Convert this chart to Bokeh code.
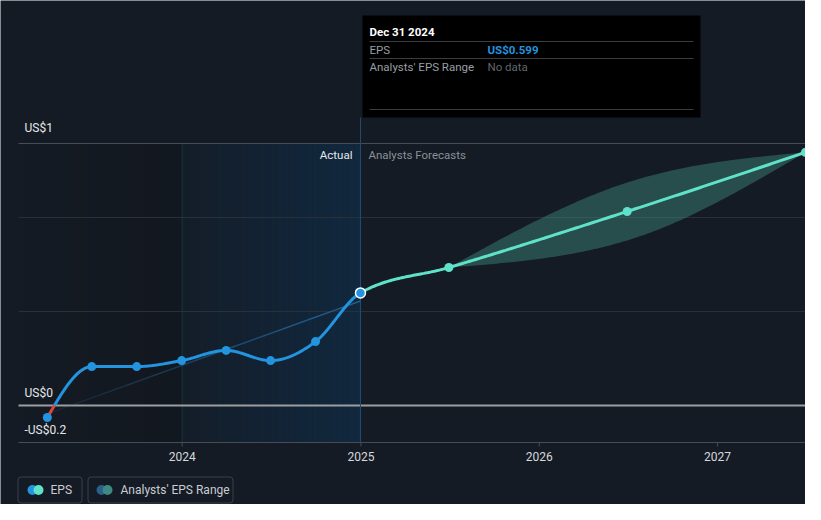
import numpy as np
import pandas as pd
from bokeh.plotting import figure
from bokeh.models import Range1d
from bokeh.core.properties import value
from bokeh.embed import file_html
from bokeh.resources import INLINE

# ---------------- data ----------------
eps_dates = ["2023-03-31", "2023-06-30", "2023-09-30", "2023-12-31",
             "2024-03-31", "2024-06-30", "2024-09-30", "2024-12-31"]
eps_values = [-0.064, 0.207, 0.207, 0.239, 0.293, 0.239, 0.340, 0.599]

fc_dates = ["2024-12-31", "2025-06-30", "2026-06-30", "2027-06-30"]
fc_values = [0.599, 0.734, 1.032, 1.347]

range_dates = ["2025-06-30", "2026-06-30", "2027-06-30"]
range_low = [0.734, 0.878, 1.347]
range_high = [0.734, 1.186, 1.347]

trend_dates = ["2023-03-31", "2024-12-31"]
trend_values = [-0.045, 0.556]

year_ticks = ["2024-01-01", "2025-01-01", "2026-01-01", "2027-01-01"]
year_labels = ["2024", "2025", "2026", "2027"]
y_label_text = ["US$1", "US$0", "-US$0.2"]
grid_values = [0.5, 1.0]

tip_date = "Dec 31 2024"
tip_eps = "US$0.599"
tip_range = "No data"

legend_labels = ["EPS", "Analysts' EPS Range"]

# ---------------- helpers ----------------
def ms(d):
    return pd.Timestamp(d).value / 1e6

BG = "#151b24"
FONT = "Roboto"

X0, X1 = ms("2023-01-31"), ms("2027-06-30")   # frame of the plot body
PX_L, PX_R = 18.0, 805.0

def X(px):
    return X0 + (px - PX_L) / (PX_R - PX_L) * (X1 - X0)

def Y(py):
    return (405 - py) / 188.0

Y_BOT = Y(442)
Y_FRAME_TOP = Y(143)

def monotone(xs, ys, n=60):
    xs = np.asarray(xs, float); ys = np.asarray(ys, float)
    h = np.diff(xs); d = np.diff(ys) / h
    m = np.zeros(len(xs))
    for i in range(1, len(xs) - 1):
        s0, s1, h0, h1 = d[i - 1], d[i], h[i - 1], h[i]
        p_ = (s0 * h1 + s1 * h0) / (h0 + h1)
        m[i] = (np.sign(s0) + np.sign(s1)) * min(abs(s0), abs(s1), 0.5 * abs(p_))
    if len(xs) > 2:
        m[0] = (3 * d[0] - m[1]) / 2
        m[-1] = (3 * d[-1] - m[-2]) / 2
    else:
        m[0] = m[-1] = d[0]
    ox, oy = [], []
    for i in range(len(xs) - 1):
        t = np.linspace(0, 1, n, endpoint=(i == len(xs) - 2))
        h00 = 2 * t**3 - 3 * t**2 + 1
        h10 = t**3 - 2 * t**2 + t
        h01 = -2 * t**3 + 3 * t**2
        h11 = t**3 - t**2
        ox.extend(xs[i] + t * h[i])
        oy.extend(h00 * ys[i] + h10 * h[i] * m[i] + h01 * ys[i + 1] + h11 * h[i] * m[i + 1])
    return np.array(ox), np.array(oy)

ex = [ms(d) for d in eps_dates]
fx = [ms(d) for d in fc_dates]
rx = [ms(d) for d in range_dates]

# ---------------- figure ----------------
p = figure(width=805, height=504, output_backend="svg", toolbar_location=None,
           x_range=Range1d(X(0), X(805)), y_range=Range1d(Y(504), Y(0)),
           min_border=0, background_fill_color=BG, border_fill_color=BG,
           outline_line_color=None)
p.axis.visible = False
p.grid.visible = False

# shaded regions
act_start, act_end = ms("2024-01-01"), ms(eps_dates[-1])
nstrip = 30
edges = np.linspace(X0, act_start, nstrip + 1)
p.quad(left=edges[:-1], right=edges[1:], bottom=Y_BOT, top=Y_FRAME_TOP,
       fill_color="#000000", fill_alpha=np.linspace(0.0, 0.11, nstrip), line_color=None)
edges = np.linspace(act_start, act_end, nstrip + 1)
p.quad(left=edges[:-1], right=edges[1:], bottom=Y_BOT, top=Y_FRAME_TOP,
       fill_color="#0a4678", fill_alpha=np.linspace(0.07, 0.32, nstrip), line_color=None)
p.segment(x0=[act_start], y0=[Y_BOT], x1=[act_start], y1=[Y_FRAME_TOP],
          line_color="#1c3246", line_width=1)

# grid lines, top border
p.segment(x0=[X0] * len(grid_values), x1=[X1] * len(grid_values), y0=grid_values, y1=grid_values,
          line_color="#2a3039", line_width=1)
p.segment(x0=[X0], x1=[X1], y0=[Y_FRAME_TOP], y1=[Y_FRAME_TOP], line_color="#474b53", line_width=1)

# x axis (drawn)
yt = [ms(d) for d in year_ticks]
p.segment(x0=[X0], x1=[X1], y0=[Y_BOT], y1=[Y_BOT], line_color="#474c55", line_width=1)
p.segment(x0=yt, x1=yt, y0=[Y_BOT] * 4, y1=[Y(446)] * 4, line_color="#474c55", line_width=1)
p.text(x=yt, y=[Y(456)] * 4, text=year_labels, text_color="#d5d8dd", text_font=value(FONT),
       text_font_size="12px", text_baseline="middle", text_align="center")

# zero line
p.segment(x0=[X0], x1=[X1], y0=[0], y1=[0], line_color="#9c9ea2", line_width=2)

# tooltip box + vertical marker line
tip_l, tip_r, tip_t, tip_b = X(362), X(700), Y(15), Y(117)
p.segment(x0=[act_end], y0=[Y_BOT], x1=[act_end], y1=[tip_b],
          line_color="#234d73", line_width=1)
p.quad(left=[tip_l], right=[tip_r], top=[tip_t], bottom=[tip_b],
       fill_color="#000000", line_color=None)
p.segment(x0=[X(369)] * 3, x1=[X(693)] * 3, y0=[Y(41), Y(58), Y(109)], y1=[Y(41), Y(58), Y(109)],
          line_color="#3a3d42", line_width=1)
p.text(x=[X(369)], y=[Y(31)], text=[tip_date], text_color="#ffffff",
       text_font=value(FONT), text_font_size="11.5px", text_font_style="bold",
       text_baseline="middle", text_align="left")
p.text(x=[X(369), X(369)], y=[Y(49), Y(66)], text=["EPS", "Analysts' EPS Range"],
       text_color="#9a9ea5", text_font=value(FONT), text_font_size="11.5px",
       text_baseline="middle", text_align="left")
p.text(x=[X(487)], y=[Y(49)], text=[tip_eps], text_color="#2394df",
       text_font=value(FONT), text_font_size="11.5px", text_font_style="bold",
       text_baseline="middle", text_align="left")
p.text(x=[X(487)], y=[Y(66)], text=[tip_range], text_color="#62666c",
       text_font=value(FONT), text_font_size="11.5px",
       text_baseline="middle", text_align="left")

# Actual / Forecast labels
p.text(x=[act_end], y=[Y_FRAME_TOP], text=["Actual"], x_offset=-8, y_offset=11,
       text_color="#e6e8eb", text_font=value(FONT), text_font_size="11.5px",
       text_baseline="middle", text_align="right")
p.text(x=[act_end], y=[Y_FRAME_TOP], text=["Analysts Forecasts"], x_offset=8, y_offset=11,
       text_color="#8a8f97", text_font=value(FONT), text_font_size="11.5px",
       text_baseline="middle", text_align="left")

# y labels
p.text(x=[X0] * 3, y=[Y_FRAME_TOP, 0, Y_BOT], text=y_label_text, x_offset=6,
       y_offset=[-9, -6, -6], text_color="#e6e8eb", text_font=value(FONT),
       text_font_size="12px", text_baseline="bottom", text_align="left")

# analysts' range band
bx, bl = monotone(rx, range_low)
_, bh = monotone(rx, range_high)
p.varea(x=bx, y1=bl, y2=bh, fill_color="#3e8c80", fill_alpha=0.45)

# trend line (fading)
tx = np.linspace(ms(trend_dates[0]), ms(trend_dates[1]), 13)
ty = np.interp(tx, [ms(d) for d in trend_dates], trend_values)
p.segment(x0=tx[:-1], y0=ty[:-1], x1=tx[1:], y1=ty[1:], line_color="#2b6fa8",
          line_alpha=np.linspace(0.15, 0.75, 12), line_width=1.5)

# one smooth curve through actual + forecast, split at the last actual
allx = ex + fx[1:]
ally = eps_values + fc_values[1:]
sx, sy = monotone(allx, ally)
split = act_end
fmask = sx >= split
p.line(sx[fmask], sy[fmask], line_color="#5fe2c9", line_width=3)
amask = sx <= split
ax_, ay_ = sx[amask], sy[amask]
k = int(np.argmax(ay_ >= 0))
xc = np.interp(0, [ay_[k - 1], ay_[k]], [ax_[k - 1], ax_[k]])
p.line(np.r_[xc, ax_[k:]], np.r_[0, ay_[k:]], line_color="#2394df", line_width=3)
p.line(np.r_[ax_[:k], xc], np.r_[ay_[:k], 0], line_color="#e0453c", line_width=3)

p.scatter(fx[1:], fc_values[1:], size=9, fill_color="#5fe2c9", line_color=None)
p.scatter(ex[:-1], eps_values[:-1], size=9, fill_color="#2394df", line_color=None)
p.scatter([ex[-1]], [eps_values[-1]], size=10, fill_color="#2394df",
          line_color="#ffffff", line_width=1.5)

# ---------------- legend (raised slightly to fit the page) ----------------
LY = 6
p.quad(left=[X(17.5), X(87.5)], right=[X(81.5), X(232.5)], top=[Y(482.5 - LY)] * 2,
       bottom=[Y(508.5 - LY)] * 2, fill_color=None, line_color="#3b414b", line_width=1,
       border_radius=3)
p.scatter([X(32), X(101)], [Y(495.5 - LY)] * 2, size=10, fill_color=["#2394df", "#2a5f8a"], line_color=None)
p.scatter([X(38), X(107)], [Y(495.5 - LY)] * 2, size=10, fill_color=["#5fe2c9", "#3f8a80"], line_color=None)
p.text(x=[X(50), X(120)], y=[Y(495.5 - LY)] * 2, text=legend_labels,
       text_color="#c9ccd1", text_font=value(FONT), text_font_size="12px",
       text_baseline="middle", text_align="left")

open("out.html", "w").write(file_html(p, INLINE))
